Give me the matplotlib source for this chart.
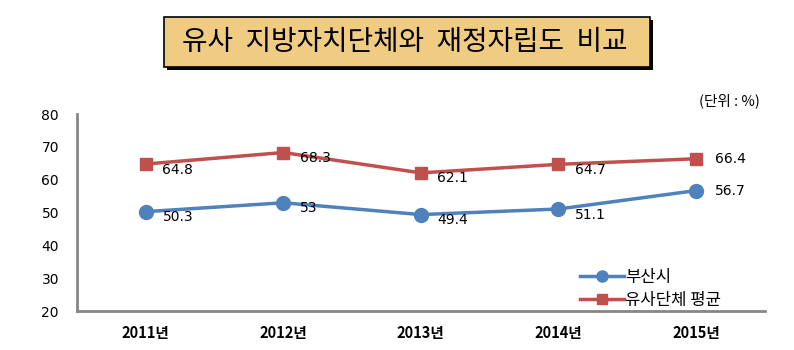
import matplotlib.pyplot as plt
from matplotlib.patches import Rectangle

plt.rcParams['font.family'] = ['Noto Sans CJK KR', 'DejaVu Sans']

years = ['2011년', '2012년', '2013년', '2014년', '2015년']
busan = [50.3, 53, 49.4, 51.1, 56.7]
similar_avg = [64.8, 68.3, 62.1, 64.7, 66.4]
busan_labels = ['50.3', '53', '49.4', '51.1', '56.7']
avg_labels = ['64.8', '68.3', '62.1', '64.7', '66.4']

blue = '#4F81BD'
red = '#C0504D'
num_font = ['DejaVu Sans', 'Noto Sans CJK KR']

fig = plt.figure(figsize=(7.94, 3.5), dpi=100)
ax = fig.add_axes([0.097, 0.111, 0.866, 0.563])

x = list(range(len(years)))
ax.plot(x, busan, color=blue, lw=2.5, marker='o', ms=10, label='부산시')
ax.plot(x, similar_avg, color=red, lw=2.5, marker='s', ms=9, label='유사단체 평균')

# 데이터 레이블
for i in x:
    if i == len(x) - 1:
        off = (14, 0)
    else:
        off = (12, -4)
    ax.annotate(busan_labels[i], (i, busan[i]), xytext=off, textcoords='offset points',
                va='center', ha='left', fontsize=10, family=num_font)
    ax.annotate(avg_labels[i], (i, similar_avg[i]), xytext=off, textcoords='offset points',
                va='center', ha='left', fontsize=10, family=num_font)

ax.set_xlim(-0.5, len(x) - 0.5)
ax.set_ylim(20, 80)
ax.set_yticks(range(20, 81, 10))
ax.set_xticks(x)
ax.set_xticklabels(years, fontweight='bold', fontsize=10.5)
for t in ax.get_yticklabels():
    t.set_family(num_font)
    t.set_fontsize(10)
ax.tick_params(axis='y', length=0, pad=13)
ax.tick_params(axis='x', length=0, pad=10)
for s in ['top', 'right']:
    ax.spines[s].set_visible(False)
for s in ['left', 'bottom']:
    ax.spines[s].set_color('#868686')
    ax.spines[s].set_linewidth(2)

ax.legend(loc='lower left', bbox_to_anchor=(0.71, -0.065), frameon=False, fontsize=12,
          handlelength=2.6, labelspacing=0.35, handletextpad=0.1, markerscale=0.8)

fig.text(0.957, 0.712, '(단위 : %)', ha='right', va='center', fontsize=10.5)

# 제목 상자
fig.patches.append(Rectangle((0.2106, 0.8), 0.612, 0.143, transform=fig.transFigure,
                             facecolor='black', edgecolor='none', zorder=0))
fig.patches.append(Rectangle((0.2066, 0.8086), 0.612, 0.143, transform=fig.transFigure,
                             facecolor='#F0CB82', edgecolor='black', lw=1.2, zorder=1))
fig.text(0.51, 0.88, '유사  지방자치단체와  재정자립도  비교', ha='center', va='center',
         fontsize=20, zorder=2)

fig.savefig('out.png', dpi=100)
